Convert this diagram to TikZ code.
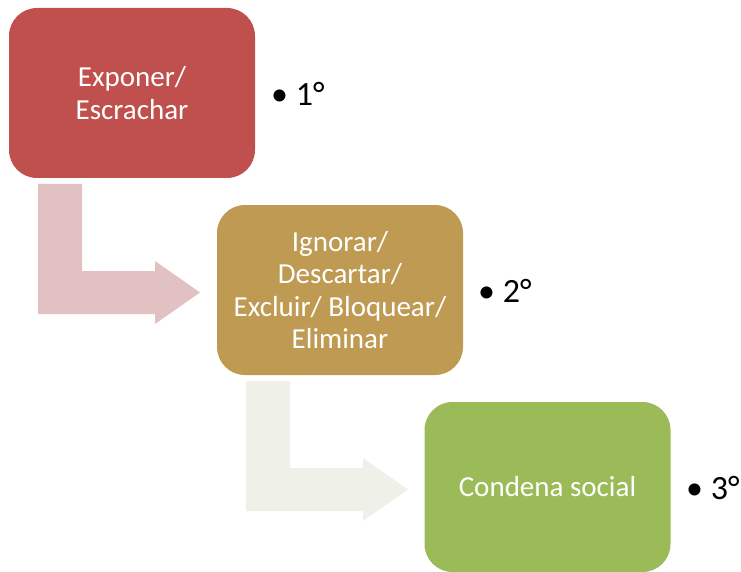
\documentclass[tikz,border=0pt]{standalone}
\usepackage{fontspec}
\setmainfont{Carlito}
\definecolor{cred}{HTML}{C0504D}
\definecolor{cgold}{HTML}{BE9A52}
\definecolor{cgreen}{HTML}{9BBB59}
\definecolor{apink}{HTML}{E2C1C2}
\definecolor{agreen}{HTML}{EFF1E9}
\tikzset{
  stepbox/.style={rounded corners=28pt, minimum width=246pt, minimum height=170pt,
    inner sep=0pt, align=center, text=white,
    font=\fontsize{29}{32.5}\selectfont},
  rank/.style={anchor=west, inner sep=0pt, font=\fontsize{34}{38}\selectfont},
}
\begin{document}
\begin{tikzpicture}[x=1pt,y=-1pt]
\useasboundingbox (0,0) rectangle (741,572);
% bent arrows
\fill[apink] (38,184) -- (82,184) -- (82,271) -- (155,271) -- (155,261) -- (200,292.5)
  -- (155,324) -- (155,314) -- (38,314) -- cycle;
\fill[agreen] (246,381) -- (290,381) -- (290,468) -- (363,468) -- (363,458) -- (408,489.5)
  -- (363,521) -- (363,511) -- (246,511) -- cycle;
% boxes
\node[stepbox, fill=cred] (b1) at (132,93) {Exponer/\\Escrachar};
\node[stepbox, fill=cgold] (b2) at (340,290) {Ignorar/\\Descartar/\\Excluir/ Bloquear/\\Eliminar};
\node[stepbox, fill=cgreen] (b3) at (547.5,487) {Condena social};
% ranks
\node[rank] (r1) at (271,94) {• 1°};
\node[rank] (r2) at (478,291) {• 2°};
\node[rank] (r3) at (686,488) {• 3°};
\end{tikzpicture}
\end{document}
